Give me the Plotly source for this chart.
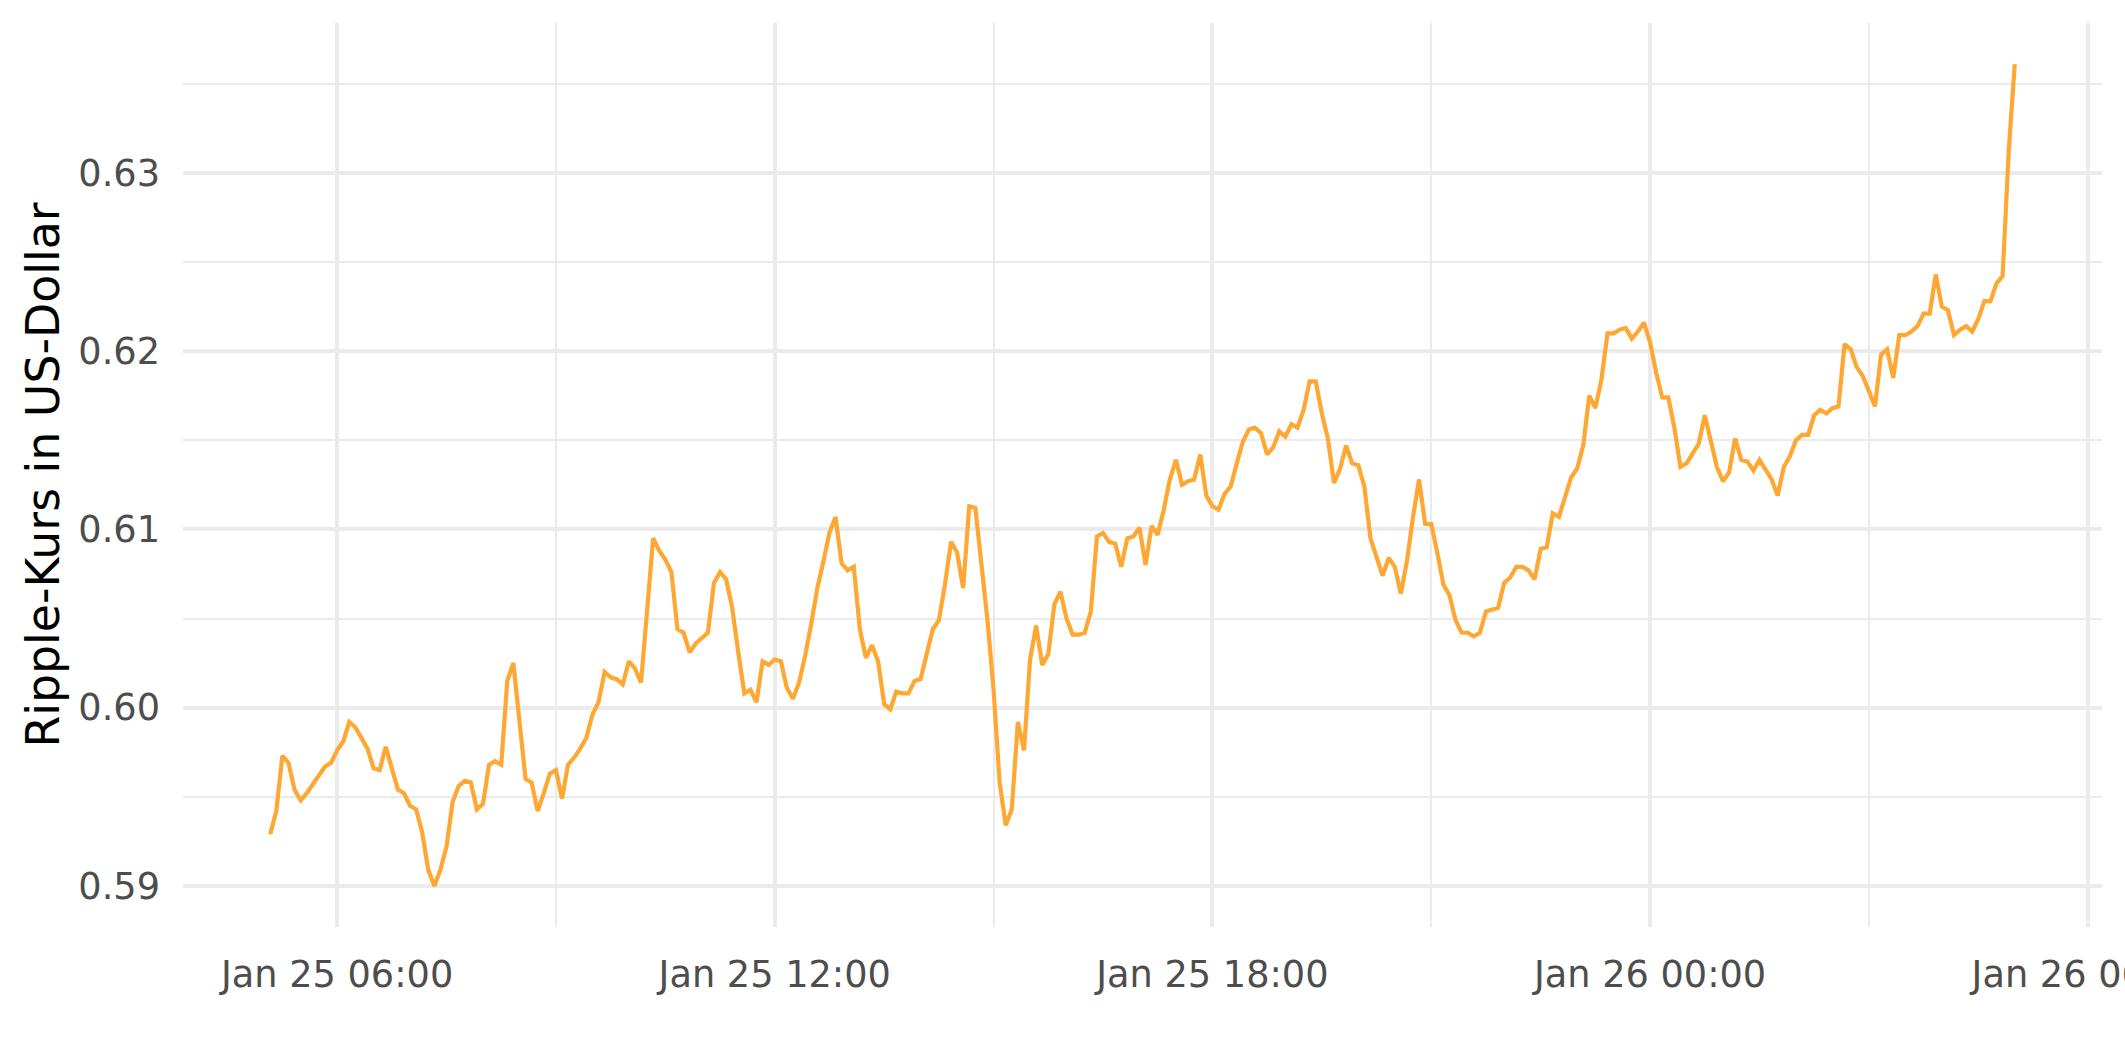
import pandas as pd
import plotly.graph_objects as go

# ---- data -------------------------------------------------------------
start_time = "2022-01-25 05:05"
interval = "5min"
prices = [
    0.5929, 0.5942, 0.5973, 0.5969, 0.5954, 0.5948, 0.5952, 0.5957, 0.5962, 0.5967,
    0.5969, 0.5976, 0.5981, 0.5992, 0.5989, 0.5983, 0.5977, 0.5966, 0.5965, 0.5978,
    0.5965, 0.5954, 0.5952, 0.5945, 0.5943, 0.5930, 0.5909, 0.5900, 0.5909, 0.5922,
    0.5947, 0.5956, 0.5959, 0.5958, 0.5943, 0.5946, 0.5968, 0.5970, 0.5968, 0.6015,
    0.6025, 0.5991, 0.5960, 0.5958, 0.5942, 0.5952, 0.5963, 0.5965, 0.5949, 0.5968,
    0.5972, 0.5977, 0.5983, 0.5996, 0.6003, 0.6020, 0.6017, 0.6016, 0.6013, 0.6026,
    0.6022, 0.6014, 0.6056, 0.6095, 0.6088, 0.6083, 0.6076, 0.6044, 0.6042, 0.6031,
    0.6036, 0.6039, 0.6042, 0.6070, 0.6076, 0.6072, 0.6056, 0.6031, 0.6008, 0.6010,
    0.6003, 0.6026, 0.6024, 0.6027, 0.6026, 0.6011, 0.6005, 0.6014, 0.6029, 0.6047,
    0.6067, 0.6082, 0.6098, 0.6107, 0.6081, 0.6077, 0.6079, 0.6044, 0.6028, 0.6035,
    0.6026, 0.6002, 0.5999, 0.6009, 0.6008, 0.6008, 0.6015, 0.6016, 0.6029, 0.6044,
    0.6049, 0.6069, 0.6093, 0.6087, 0.6067, 0.6113, 0.6112, 0.6079, 0.6049, 0.6010,
    0.5958, 0.5934, 0.5943, 0.5992, 0.5976, 0.6027, 0.6046, 0.6024, 0.6030, 0.6058,
    0.6065, 0.6050, 0.6041, 0.6041, 0.6042, 0.6054, 0.6096, 0.6098, 0.6093, 0.6092,
    0.6079, 0.6095, 0.6096, 0.6101, 0.6080, 0.6102, 0.6097, 0.6111, 0.6128, 0.6139,
    0.6125, 0.6127, 0.6128, 0.6142, 0.6119, 0.6113, 0.6111, 0.6120, 0.6124, 0.6137,
    0.6149, 0.6156, 0.6157, 0.6154, 0.6142, 0.6146, 0.6155, 0.6152, 0.6159, 0.6157,
    0.6167, 0.6183, 0.6183, 0.6165, 0.6151, 0.6126, 0.6134, 0.6147, 0.6137, 0.6136,
    0.6124, 0.6095, 0.6085, 0.6074, 0.6084, 0.6079, 0.6064, 0.6082, 0.6107, 0.6128,
    0.6103, 0.6103, 0.6087, 0.6069, 0.6063, 0.6049, 0.6042, 0.6042, 0.6040, 0.6042,
    0.6054, 0.6055, 0.6056, 0.6070, 0.6073, 0.6079, 0.6079, 0.6077, 0.6072, 0.6089,
    0.6090, 0.6109, 0.6107, 0.6118, 0.6129, 0.6134, 0.6147, 0.6175, 0.6168, 0.6184,
    0.6210, 0.6210, 0.6212, 0.6213, 0.6207, 0.6211, 0.6216, 0.6205, 0.6188, 0.6174,
    0.6174, 0.6157, 0.6135, 0.6137, 0.6142, 0.6148, 0.6164, 0.6150, 0.6135, 0.6127,
    0.6132, 0.6151, 0.6139, 0.6138, 0.6133, 0.6139, 0.6133, 0.6128, 0.6119, 0.6135,
    0.6141, 0.6150, 0.6153, 0.6153, 0.6164, 0.6167, 0.6165, 0.6168, 0.6169, 0.6204,
    0.6201, 0.6191, 0.6186, 0.6178, 0.6169, 0.6198, 0.6201, 0.6185, 0.6209, 0.6209,
    0.6211, 0.6214, 0.6221, 0.6221, 0.6243, 0.6225, 0.6223, 0.6209, 0.6212, 0.6214,
    0.6211, 0.6218, 0.6228, 0.6228, 0.6238, 0.6242, 0.6312, 0.6361,
]
x_tick_values = ["2022-01-25 06:00", "2022-01-25 12:00", "2022-01-25 18:00",
                 "2022-01-26 00:00", "2022-01-26 06:00"]
x_tick_labels = ["Jan 25 06:00", "Jan 25 12:00", "Jan 25 18:00",
                 "Jan 26 00:00", "Jan 26 06:00"]
y_tick_values = [0.59, 0.60, 0.61, 0.62, 0.63]
y_title = "Ripple-Kurs in US-Dollar"

times = pd.date_range(start=start_time, periods=len(prices), freq=interval)

# ---- figure -----------------------------------------------------------
FONT = "DejaVu Sans"
GRID = "#EBEBEB"

fig = go.Figure()
fig.add_trace(go.Scatter(
    x=times, y=prices, mode="lines",
    line=dict(color="#FFA733", width=4.2),
    hoverinfo="skip", showlegend=False,
))

t0, t1 = times[0], times[-1]
pad_t = (t1 - t0) * 0.05
p0, p1 = min(prices), max(prices)
pad_p = (p1 - p0) * 0.05

fig.update_layout(
    width=2125, height=1062,
    margin=dict(l=183, r=23, t=23, b=135, autoexpand=False),
    paper_bgcolor="white", plot_bgcolor="white",
    font=dict(family=FONT, color="#4D4D4D"),
    showlegend=False,
)
fig.update_xaxes(
    type="date",
    range=[t0 - pad_t, t1 + pad_t],
    tickmode="array", tickvals=x_tick_values, ticktext=x_tick_labels,
    tickfont=dict(family=FONT, size=36.7, color="#4D4D4D"),
    ticks="", showline=False, zeroline=False,
    showgrid=True, gridcolor=GRID, gridwidth=4.4,
    minor=dict(tickmode="linear", tick0="2022-01-25 03:00", dtick=3 * 3600 * 1000,
               showgrid=True, gridcolor=GRID, gridwidth=2.2, ticks=""),
    ticklabelstandoff=22,
    ticklabeloverflow="allow",
    automargin=False,
)
fig.update_yaxes(
    range=[p0 - pad_p, p1 + pad_p],
    tickmode="array", tickvals=y_tick_values, tickformat=".2f",
    tickfont=dict(family=FONT, size=36.7, color="#4D4D4D"),
    ticks="", showline=False, zeroline=False,
    showgrid=True, gridcolor=GRID, gridwidth=4.4,
    minor=dict(tickmode="linear", tick0=0.585, dtick=0.005,
               showgrid=True, gridcolor=GRID, gridwidth=2.2, ticks=""),
    ticklabelstandoff=22,
    title=dict(text=y_title, font=dict(family=FONT, size=45.8, color="black"), standoff=4),
    automargin=False,
)

fig.write_html(
    "out.html",
    config={"displayModeBar": False},
    post_script="document.body.style.margin='0';document.body.style.overflow='hidden';",
)
